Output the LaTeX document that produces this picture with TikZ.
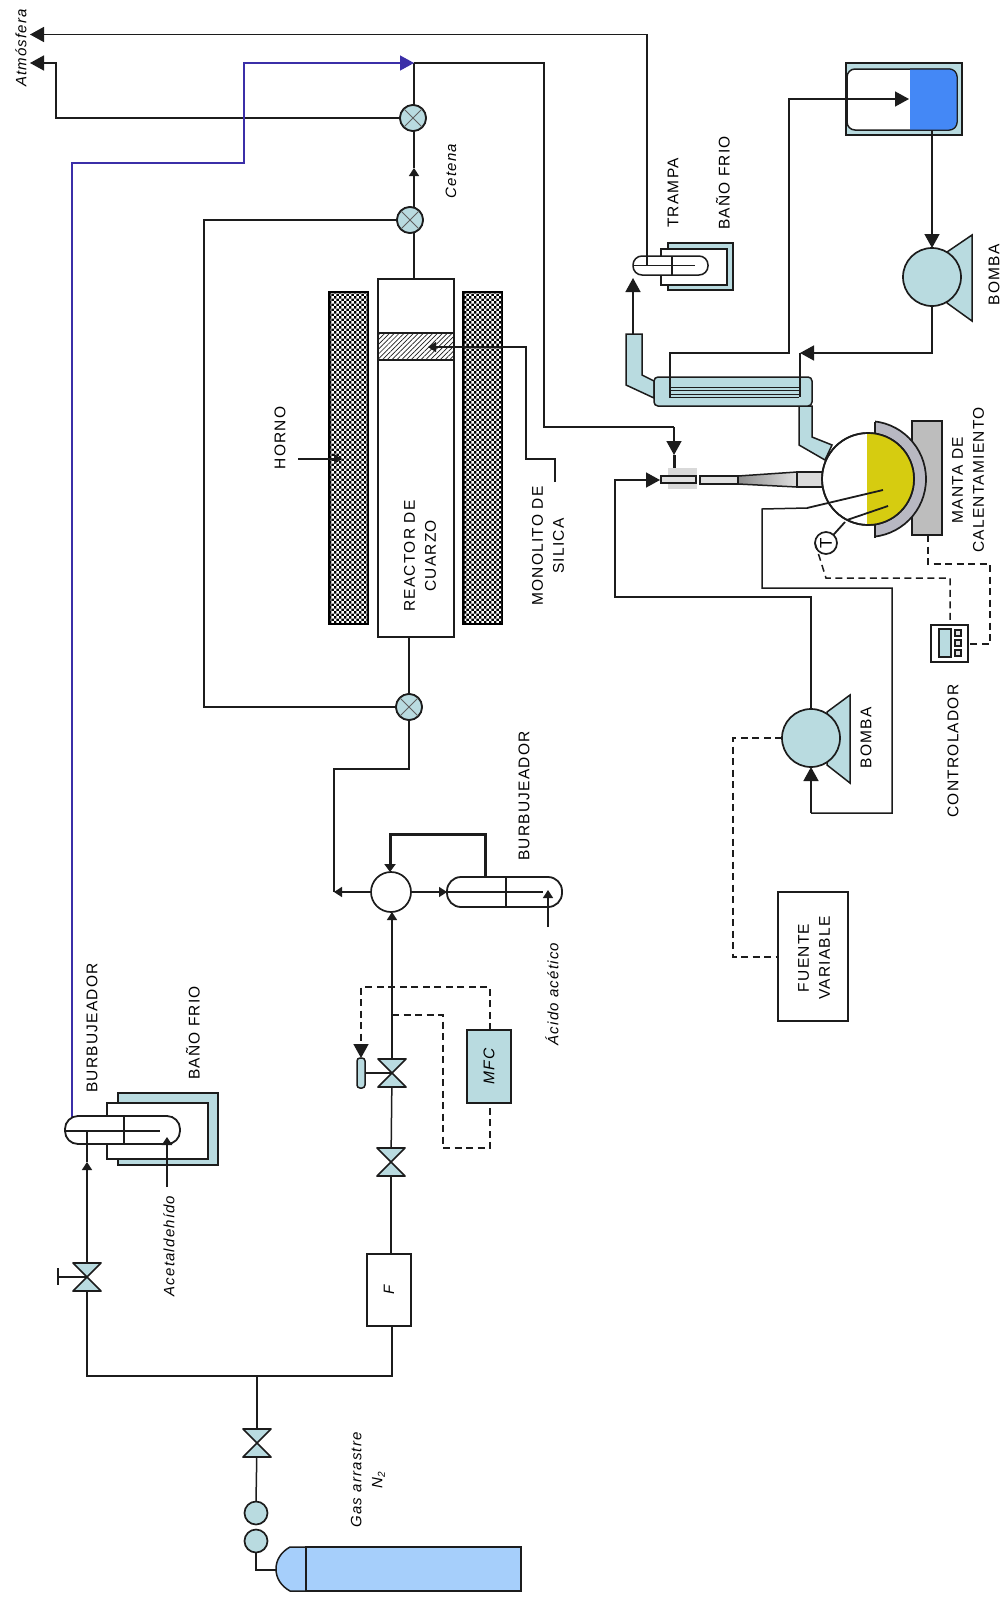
\documentclass[tikz,border=0pt]{standalone}
\usepackage{fontspec}
\setmainfont{Liberation Sans}
\newfontfamily\lblfont[LetterSpace=8]{Liberation Sans}
\usetikzlibrary{arrows.meta,patterns,patterns.meta,shadings}
\pgfdeclarepatternformonly{chk}{\pgfqpoint{0pt}{0pt}}{\pgfqpoint{5.4pt}{5.4pt}}{\pgfqpoint{5.4pt}{5.4pt}}{%
  \pgfpathrectangle{\pgfqpoint{0pt}{0pt}}{\pgfqpoint{2.7pt}{2.7pt}}%
  \pgfpathrectangle{\pgfqpoint{2.7pt}{2.7pt}}{\pgfqpoint{2.7pt}{2.7pt}}%
  \pgfusepath{fill}}
\definecolor{teal1}{HTML}{B9DBE0}
\definecolor{ink}{HTML}{1C1C1C}
\definecolor{bluel}{HTML}{3B2FA8}
\definecolor{cyl}{HTML}{A6CFFB}
\definecolor{tankb}{HTML}{4488F6}
\definecolor{yel}{HTML}{D6CC10}
\definecolor{jack}{HTML}{B8B8C2}
\definecolor{mant}{HTML}{BDBDBD}
\tikzset{
  x=1pt,y=-1pt,
  ln/.style={draw=ink,line width=1.5pt,line join=miter},
  thick line/.style={ln,line width=3pt},
  dash line/.style={ln,dash pattern=on 7pt off 4.5pt},
  big/.style={-{Triangle[length=14pt,width=15pt]}},
  small/.style={-{Triangle[length=8pt,width=10pt]}},
  boxn/.style={draw=ink,line width=1.5pt,inner sep=0pt,outer sep=0pt,fill=white},
  rnd/.style={circle,draw=ink,line width=1.7pt,inner sep=0pt,outer sep=0pt},
  lbl/.style={rotate=90,font=\lblfont\fontsize{15.5}{21}\selectfont,inner sep=0pt,align=center},
  ital/.style={rotate=90,font=\lblfont\itshape\fontsize{15}{21}\selectfont,inner sep=0pt,align=center},
  vn/.style={inner sep=0pt,outer sep=0pt,minimum width=28pt,minimum height=28pt},
  bowvalve/.pic={\draw[fill=teal1,draw=ink,line width=1.7pt,line join=round] (-14,-14)--(14,-14)--(-14,14)--(14,14)--cycle;},
  xmark/.pic={\draw[draw=ink!70,line width=1pt] (-9,-9)--(9,9) (-9,9)--(9,-9);},
  furn/.style={draw=black,line width=1.5pt,fill=black,minimum width=39pt,minimum height=332pt,inner sep=0pt,outer sep=0pt}
}
\begin{document}
\begin{tikzpicture}
\useasboundingbox (0,0) rectangle (1006,1598);
\fill[white] (0,0) rectangle (1006,1598);
% ---- reactor
\node[furn] (furnL) at (348.5,458) {};
\fill[pattern=chk,pattern color=white] (330.5,293.5) rectangle (367,622.5);
\node[furn] (furnR) at (482.5,458) {};
\fill[pattern=chk,pattern color=white] (464.5,293.5) rectangle (501,622.5);
\node[boxn,minimum width=76pt,minimum height=358pt] (reactor) at (416,458) {};
\node[boxn,minimum width=76pt,minimum height=27pt,pattern={Lines[angle=45,distance=3.4pt,line width=.7pt]},pattern color=ink] (mono) at (416,346.5) {};
\node[rnd,fill=teal1,minimum size=26pt] (v1) at (413,118) {};
\node[rnd,fill=teal1,minimum size=26pt] (v2) at (410,220) {};
\node[rnd,fill=teal1,minimum size=26pt] (v3) at (409,707) {};
\coordinate (rTop) at (414,279);
\coordinate (rBot) at (409,637);
\coordinate (cetA) at (414,168);
\coordinate (junc) at (414,63);
\coordinate (atmA) at (30,63);
\coordinate (atmB) at (30,34.5);
\coordinate (a1) at (56,63);
\coordinate (a2) at (56,118);
\draw[ln] (rTop) -- (rTop |- v2);
\draw[ln,small] (rTop |- v2) -- (cetA);
\draw[ln] (cetA) -- (rTop |- v1);
\draw[ln] (rTop |- v1) -- (junc);
\draw[ln] (v2.west) -- (204,220) -- (204,707) -- (v3.west);
\draw[ln] (rBot) -- (v3.north);
\draw[ln,big] (v1.west) -- (a2) -- (a1) -- (atmA);
% blue line
\coordinate (b1) at (72,163);
\coordinate (b2) at (244,163);
\coordinate (b3) at (244,63);
\coordinate (b0) at (72,1117);
\draw[draw=bluel,line width=1.3pt,-{Triangle[length=14pt,width=15pt]}] (b0) -- (b1) -- (b2) -- (b3) -- (junc);
% line to injection
\coordinate (c1) at (544,63);
\coordinate (c2) at (544,427);
\coordinate (c3) at (674,427);
\coordinate (c4) at (674,455);
\coordinate (c5) at (674,469);
\draw[ln] (junc) -- (c1) -- (c2) -- (c3);
\draw[ln,big] (c3) -- (c4);
\draw[thick line] (c4) -- (c5);
% monolith pointer
\coordinate (m0) at (428,347);
\coordinate (m1) at (526,347);
\coordinate (m2) at (526,459);
\coordinate (m3) at (555,459);
\coordinate (m4) at (555,482);
\draw[ln,small] (m4) -- (m3) -- (m2) -- (m1) -- (m0);
\coordinate (h0) at (298,459);
\coordinate (h1) at (342,459);
\draw[ln,small] (h0) -- (h1);
\foreach \n in {v1,v2,v3}{\node[rnd,fill=teal1,minimum size=26pt] at (\n) {}; \pic at (\n) {xmark};}

% ---- trap
\node[boxn,fill=teal1,minimum width=65pt,minimum height=47pt] (trapbath) at (700.5,266.5) {};
\node[boxn,minimum width=66pt,minimum height=36pt] (trapin) at (694,267) {};
\node[boxn,minimum width=75pt,minimum height=19pt,rounded corners=9pt] (trap) at (670.5,265.5) {};
\coordinate (t1) at (647,34.5);
\coordinate (t2) at (647,265.5);
\coordinate (t3) at (695,265.5);
\coordinate (t4) at (633,265.5);
\draw[ln,big] (t2) -- (t1) -- (atmB);
\draw[ln] (t4) -- (t3);
\draw[ln] (672,256) -- (672,275);

% ---- condenser
\draw[ln,fill=teal1] (626,334) -- (642,334) -- (642,375) -- (654,381) -- (654,398) -- (626,385) -- cycle;
\draw[ln,fill=teal1] (799,406) -- (812,406) -- (812,437) -- (832,445) -- (825,460) -- (799,445) -- cycle;
\node[boxn,fill=teal1,minimum width=158pt,minimum height=29pt,rounded corners=4pt] (cond) at (733,391.5) {};
\draw[ln,line width=1pt] (669,387) -- (799,387) (669,390.5) -- (799,390.5) (669,394) -- (799,394) (669,397) -- (799,397);
\coordinate (ct) at (633,334);
\coordinate (cb) at (633,278);
\draw[ln,big] (ct) -- (cb);

% ---- tank
\node[boxn,fill=teal1,minimum width=116pt,minimum height=72pt] (tank) at (904,99) {};
\node[boxn,minimum width=110pt,minimum height=61pt,rounded corners=8pt] (tankin) at (902,99.5) {};
\begin{scope}
\clip (910,60) rectangle (970,140);
\node[draw=ink,line width=1pt,fill=tankb,inner sep=0pt,minimum width=110pt,minimum height=61pt,rounded corners=8pt] (liquid) at (902,99.5) {};
\end{scope}
\coordinate (p1a) at (932,130);
\coordinate (p1b) at (932,353);
\coordinate (coolIn) at (800,353);
\coordinate (coolInB) at (800,397);
\coordinate (coolO) at (670,397);
\coordinate (coolO2) at (670,353);
\coordinate (coolO3) at (789,353);
\coordinate (coolO4) at (789,99);
\coordinate (tankTip) at (909,99);
% pump 1
\draw[ln,fill=teal1] (947,252) -- (972,235) -- (972,321) -- (947,303) -- cycle;
\node[rnd,fill=teal1,minimum size=58pt] (pump1) at (932,277) {};
\draw[ln,big] (p1a) -- (pump1.north);
\draw[ln,big] (pump1.south) -- (p1b) -- (coolIn);
\draw[ln] (coolIn) -- (coolInB);
\draw[ln,big] (coolO) -- (coolO2) -- (coolO3) -- (coolO4) -- (tankTip);

% ---- flask group
\node[fill=black!15,inner sep=0pt,minimum width=29pt,minimum height=21pt] (nozback) at (682.5,478.5) {};
\node[boxn,fill=black!12,minimum width=35pt,minimum height=7pt] (noz) at (678.5,479.5) {};
\node[boxn,fill=black!12,minimum width=38pt,minimum height=8pt] (tube) at (719,480) {};
\draw[ln,left color=black!45,right color=black!12] (738,476) -- (797,472) -- (797,487) -- (738,484) -- cycle;
\node[boxn,fill=black!14,minimum width=28pt,minimum height=15pt] (neck) at (811,479.5) {};
\node[boxn,fill=mant,minimum width=30pt,minimum height=114pt] (mantle) at (927,478) {};
\coordinate (fc) at (868,479);
\begin{scope}
\clip (875,410) rectangle (1000,550);
\draw[ln,line width=1.7pt,fill=jack] (fc) circle[radius=58pt];
\end{scope}
\draw[ln] (875,422) -- (875,538);
\node[rnd,fill=white,minimum size=92pt] (flask) at (fc) {};
\begin{scope}
\clip (867,420) rectangle (920,540);
\fill[yel] (fc) circle[radius=46pt];
\end{scope}
\node[rnd,minimum size=92pt] at (fc) {};
% dip tubes
\coordinate (d1) at (883,490);
\coordinate (d2) at (807,508);
\coordinate (d3) at (762,509);
\coordinate (d4) at (762,588);
\coordinate (d5) at (892,588);
\coordinate (d6) at (892,813);
\coordinate (d7) at (811,813);
\draw[ln,line width=1.8pt] (d1) -- (d2);
\draw[ln] (d2) -- (d3) -- (d4) -- (d5) -- (d6) -- (d7);
\coordinate (e1) at (888,506);
\coordinate (e2) at (847,520);
\draw[ln,line width=1.8pt] (e1) -- (e2);
% thermometer
\coordinate (th0) at (845,522);
\node[rnd,fill=white,minimum size=22pt,font=\fontsize{17}{17}\selectfont] (therm) at (826,543) {\rotatebox{90}{T}};
\draw[ln,line width=1.8pt] (therm) -- (th0);
% controller
\node[boxn,minimum width=37pt,minimum height=37pt] (ctrl) at (949.5,643.5) {};
\node[boxn,fill=teal1,minimum width=12pt,minimum height=28pt] (disp) at (945,643) {};
\node[boxn,fill=black!12,minimum width=6pt,minimum height=6pt] (k1) at (958,633) {};
\node[boxn,fill=black!12,minimum width=6pt,minimum height=6pt] (k2) at (958,643) {};
\node[boxn,fill=black!12,minimum width=6pt,minimum height=6pt] (k3) at (958,653) {};
\coordinate (dt1) at (826,578);
\coordinate (dt2) at (950,578);
\draw[dash line] (therm.west) -- (dt1) -- (dt2) -- (dt2 |- ctrl.north);
\coordinate (dm0) at (928,535);
\coordinate (dm1) at (928,564);
\coordinate (dm2) at (990,564);
\coordinate (dm3) at (990,644);
\coordinate (dm4) at (968,644);
\draw[dash line] (dm0) -- (dm1) -- (dm2) -- (dm3) -- (dm4);
% pump 2
\draw[ln,fill=teal1] (827,712) -- (850,695) -- (850,783) -- (827,765) -- cycle;
\node[rnd,fill=teal1,minimum size=58pt] (pump2) at (811,738) {};
\coordinate (nz1) at (660,480);
\coordinate (nz2) at (615,480);
\coordinate (nz3) at (615,597);
\coordinate (nz4) at (811,597);
\draw[ln,big] (pump2.north) -- (nz4) -- (nz3) -- (nz2) -- (nz1);
\draw[ln,big] (d7) -- (pump2.south);
\node[boxn,minimum width=70pt,minimum height=129pt] (fuente) at (813,956.5) {};
\coordinate (dp1) at (733,738);
\coordinate (dp2) at (733,957);
\draw[dash line] (pump2.west) -- (dp1) -- (dp2) -- (fuente.west |- dp2);

% ---- acetic acid bubbler
\node[rnd,fill=white,minimum size=40pt] (mix) at (391,892) {};
\node[boxn,minimum width=115pt,minimum height=30pt,rounded corners=14pt,line width=1.8pt] (bub1) at (504.5,892) {};
\draw[ln] (447,892) -- (543,892) (506,877) -- (506,907);
\coordinate (l1) at (409,769);
\coordinate (l2) at (334,769);
\coordinate (l3) at (334,892);
\draw[ln] (v3.south) -- (l1) -- (l2) -- (l3);
\draw[ln,small] (mix.west) -- (l3);
\draw[ln,small] (mix.east) -- (bub1.west);
\coordinate (tk1) at (485,877);
\coordinate (tk2) at (485,834);
\coordinate (tk3) at (390,834);
\draw[thick line,-{Triangle[length=8pt,width=11pt]}] (tk1) -- (tk2) -- (tk3) -- (tk3 |- mix.north);
\coordinate (ac1) at (548,927);
\coordinate (ac2) at (548,890);
\draw[ln,small] (ac1) -- (ac2);

% ---- MFC line
\node[boxn,fill=teal1,minimum width=44pt,minimum height=73pt] (mfc) at (489,1066.5) {\rotatebox{90}{\lblfont\itshape\fontsize{15.5}{15.5}\selectfont MFC}};
\node[vn] (vA) at (392,1073) {};
\node[vn] (vB) at (391,1162) {};
\node[boxn,minimum width=44pt,minimum height=72pt] (filt) at (389,1290) {\rotatebox{90}{\lblfont\itshape\fontsize{15}{15}\selectfont F}};
\node[draw=ink,line width=1.5pt,fill=teal1,rounded corners=3pt,inner sep=0pt,minimum width=8pt,minimum height=30pt,outer sep=0pt] (act) at (361,1073) {};
\draw[ln] (act.east) -- (vA.center);
\draw[ln,small] (vA.center) -- (vA.center |- mix.south);
\draw[ln] (vA.center) -- (vB.center);
\draw[ln] (vB.center) -- (filt.north -| vB);
\pic at (vA) {bowvalve};
\pic at (vB) {bowvalve};
\coordinate (df1) at (490,987);
\coordinate (df2) at (361,987);
\draw[dash line,-{Triangle[length=14pt,width=15pt]}] (mfc.north -| df1) -- (df1) -- (df2) -- (act.north);
\coordinate (dg0) at (392,1015);
\coordinate (dg1) at (443,1015);
\coordinate (dg2) at (443,1148);
\coordinate (dg3) at (490,1148);
\draw[dash line] (dg0) -- (dg1) -- (dg2) -- (dg3) -- (mfc.south -| dg3);

% ---- gas supply
\coordinate (j1) at (392,1376);
\coordinate (j2) at (257,1376);
\coordinate (j3) at (87,1376);
\node[vn] (vC) at (87,1277) {};
\node[vn] (vD) at (257,1443) {};
\node[rnd,fill=teal1,minimum size=23pt] (g1) at (256,1513) {};
\node[rnd,fill=teal1,minimum size=23pt] (g2) at (256,1541) {};
\coordinate (g3) at (256,1570);
\coordinate (dome) at (276,1570);
\node[boxn,fill=cyl,minimum width=215pt,minimum height=44pt] (cylbody) at (413.5,1569) {};
\draw[ln,fill=cyl] (306,1547) -- (290,1547) .. controls (281,1552) and (276,1560) .. (276,1569) .. controls (276,1578) and (281,1586) .. (290,1591) -- (306,1591) -- cycle;
\draw[ln,line width=2.2pt] (306,1547) -- (306,1591);
\draw[ln] (g2.south) -- (g3) -- (dome);
\draw[ln] (g1.north) -- (vD.center);
\draw[ln] (vD.center) -- (j2);
\draw[ln] (filt.south -| j1) -- (j1) -- (j3) -- (vC.center);
\pic at (vD) {bowvalve};

% ---- acetaldehyde bubbler
\node[boxn,fill=teal1,minimum width=100pt,minimum height=72pt] (bath) at (168,1129) {};
\node[boxn,minimum width=101pt,minimum height=56pt] (bathin) at (157.5,1131) {};
\node[boxn,minimum width=115pt,minimum height=28pt,rounded corners=13pt,line width=1.8pt] (bub2) at (122.5,1130) {};
\draw[ln] (65,1131) -- (160,1131) (124,1116) -- (124,1144);
\coordinate (bin) at (87,1162);
\coordinate (bin2) at (87,1131);
\draw[ln,small] (vC.center) -- (bin);
\draw[ln] (bin) -- (bin2);
\coordinate (hv) at (58,1277);
\coordinate (hv1) at (58,1268);
\coordinate (hv2) at (58,1285);
\draw[ln] (vC.center) -- (hv) (hv1) -- (hv2);
\pic at (vC) {bowvalve};
\coordinate (al1) at (167,1187);
\coordinate (al2) at (167,1137);
\draw[ln,line width=2.4pt,small] (al1) -- (al2);

% ---- labels
\node[ital] (tAtm) at (21,48) {Atmósfera};
\node[ital] (tCet) at (451,171) {Cetena};
\node[lbl] (tHorno) at (280,438) {HORNO};
\node[lbl] (tReac) at (420,556) {REACTOR DE\\CUARZO};
\node[lbl] (tMono) at (548,546) {MONOLITO DE\\SILICA};
\node[lbl] (tTrampa) at (673,193) {TRAMPA};
\node[lbl] (tBano) at (723,183) {BAÑO FRIO};
\node[lbl] (tB1) at (994,275) {BOMBA};
\node[lbl] (tManta) at (968,480) {MANTA DE\\CALENTAMIENTO};
\node[lbl] (tB2) at (866,738) {BOMBA};
\node[lbl] (tCtrl) at (953,751) {CONTROLADOR};
\node[lbl] (tFuente) at (814,958) {FUENTE\\VARIABLE};
\node[lbl] (tBur1) at (524,796) {BURBUJEADOR};
\node[ital] (tAcido) at (552,994) {Ácido acético};
\node[lbl] (tBur2) at (92,1028) {BURBUJEADOR};
\node[lbl] (tBano2) at (193,1033) {BAÑO FRIO};
\node[ital] (tAcet) at (169,1246) {Acetaldehído};
\node[ital] (tGas) at (368,1480) {Gas arrastre\\N\raisebox{-2.5pt}{\fontsize{10}{10}\selectfont 2}};
\end{tikzpicture}
\end{document}
